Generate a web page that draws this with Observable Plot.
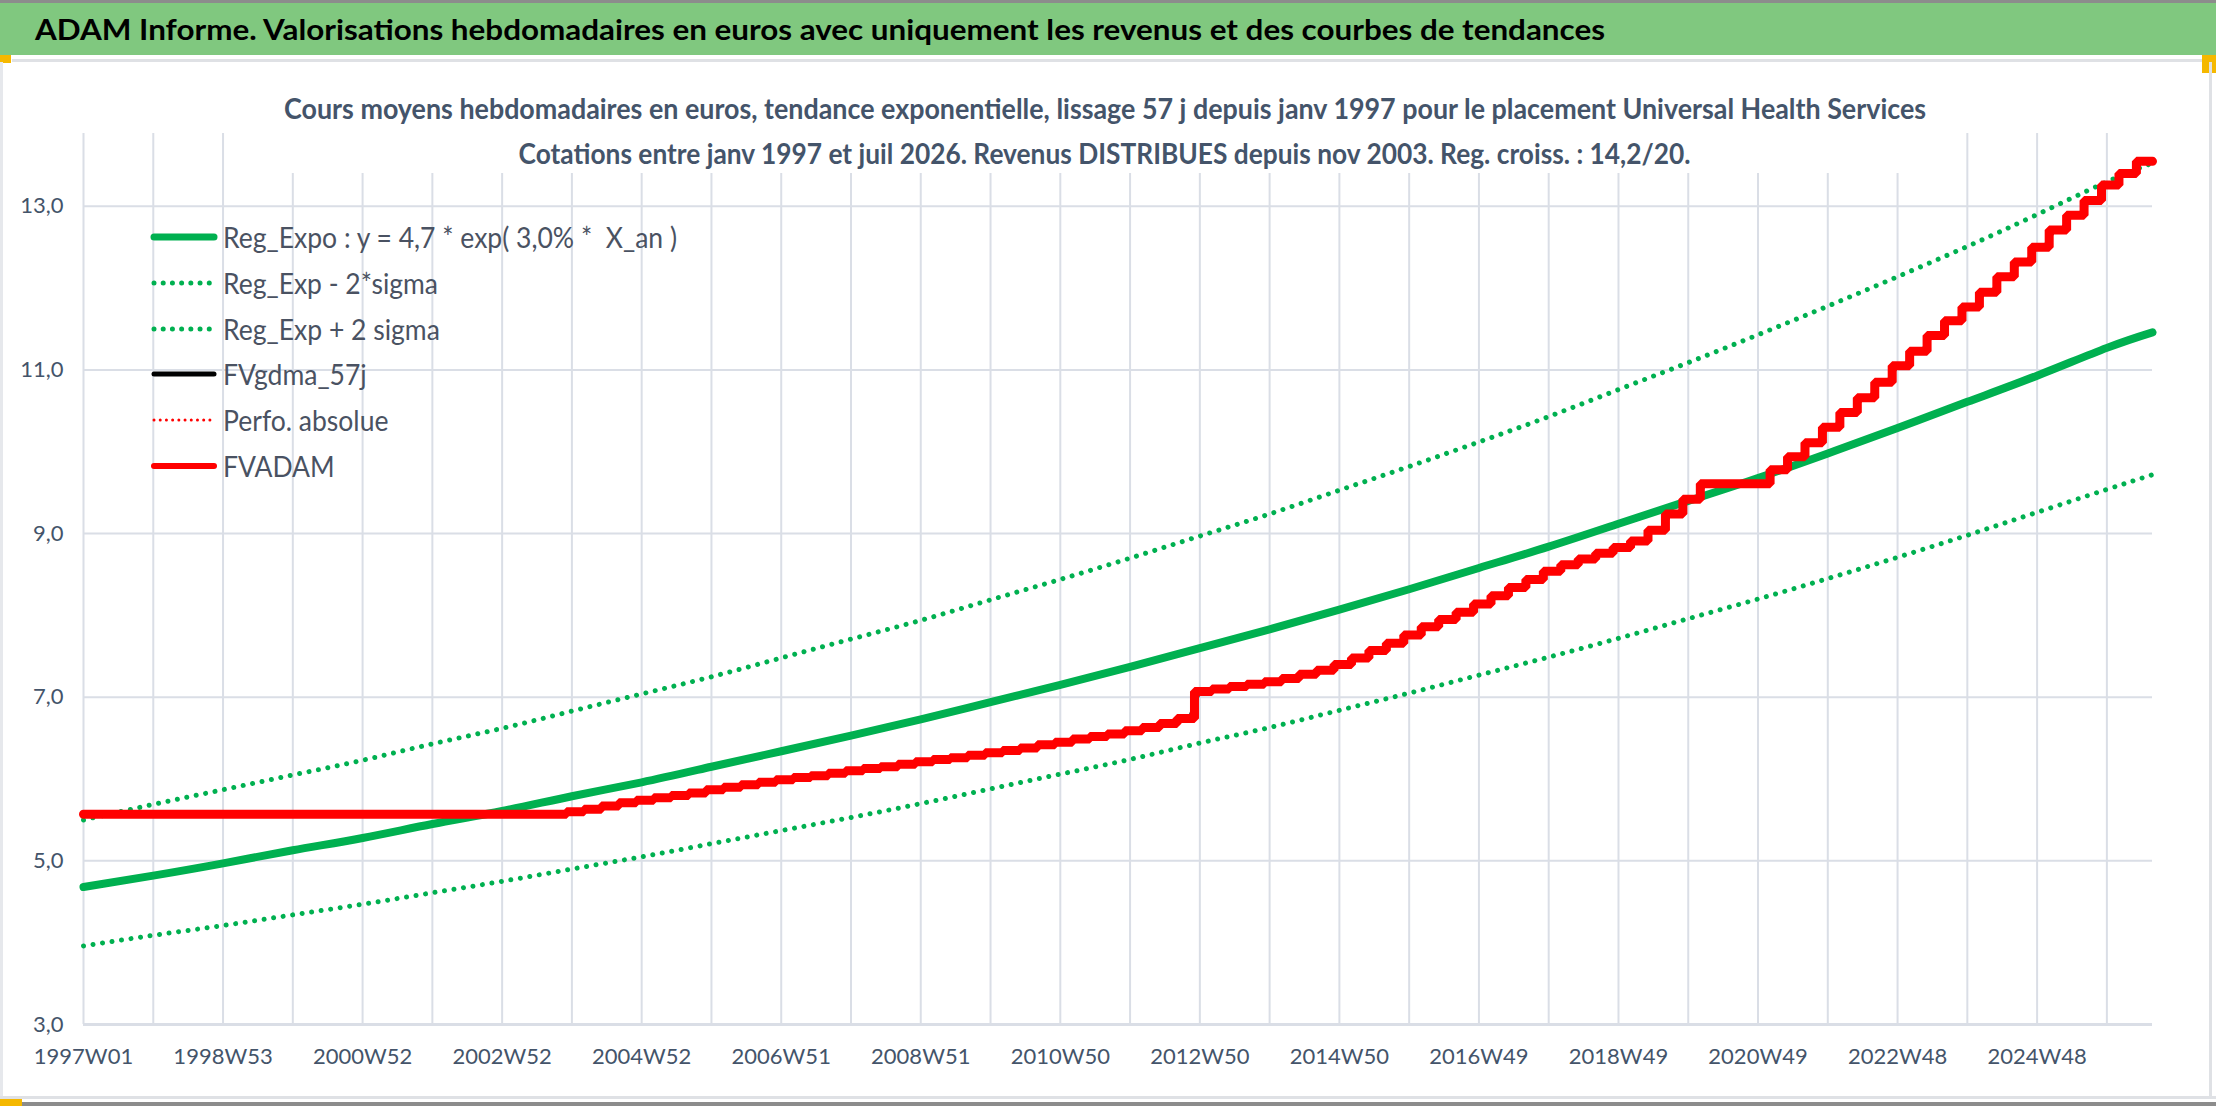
<!DOCTYPE html>
<html>
<head>
<meta charset="utf-8">
<script src="https://cdn.jsdelivr.net/npm/d3@7"></script>
<script src="https://cdn.jsdelivr.net/npm/@observablehq/plot@0.6"></script>
<style>
html, body { margin: 0; padding: 0; background: #fff; }
#page { position: relative; width: 2216px; height: 1106px; overflow: hidden; background: #fff; font-family: Lato, "Open Sans", sans-serif; }
#chart { position: absolute; left: 0; top: 0; }
.abs { position: absolute; }
#titlebar { left: 0; top: 3px; width: 2216px; height: 52px; background: #80c87f; }
#title { left: 35px; top: 3px; height: 52px; line-height: 52px; font-weight: 700; font-size: 29px; color: #000; white-space: nowrap; transform-origin: left center; }
#subbox { left: 272px; top: 80px; width: 1668px; height: 93px; background: #fff; }
.subline { left: 0; width: 2210px; text-align: center; color: #44546a; font-weight: 700; font-size: 28px; white-space: nowrap; }
.subline span { display: inline-block; transform-origin: center center; }
#legend { left: 150px; top: 214px; color: #4a5262; font-size: 28px; }
.lrow { position: absolute; left: 0; height: 46px; white-space: pre; }
.lrow svg { position: absolute; left: 0; top: 0; }
.lrow span { position: absolute; left: 73px; top: 5px; line-height: 36px; transform-origin: left center; white-space: pre; }
</style>
</head>
<body>
<div id="page">
  <div id="chart"></div>
  <div class="abs" style="left:0;top:0;width:2216px;height:3px;background:#8c8c8c"></div>
  <div class="abs" id="titlebar"></div>
  <div class="abs" id="title"></div>
  <div class="abs" style="left:12px;top:59px;width:2204px;height:3px;background:#dfe1e5"></div>
  <div class="abs" style="left:0;top:55px;width:11px;height:8px;background:#f5b800"></div>
  <div class="abs" style="left:2202px;top:55px;width:14px;height:18px;background:#f5b800"></div>
  <div class="abs" style="left:2209px;top:62px;width:3px;height:1034px;background:#dfe1e5"></div>
  <div class="abs" style="left:0;top:62px;width:3px;height:1034px;background:#e6e8ec"></div>
  <div class="abs" style="left:0;top:1096px;width:2216px;height:3px;background:#dfe1e5"></div>
  <div class="abs" style="left:0;top:1102px;width:2216px;height:4px;background:#8c8c8c"></div>
  <div class="abs" style="left:0;top:1099px;width:22px;height:7px;background:#f5b800"></div>
  <div class="abs" id="subbox"></div>
  <div class="abs subline" style="top:88px;height:40px;line-height:40px"><span id="sub1"></span></div>
  <div class="abs subline" style="top:133px;height:40px;line-height:40px"><span id="sub2"></span></div>
  <div class="abs" id="legend"></div>
</div>
<script>
// ---------- texts ----------
const titleText = "ADAM Informe. Valorisations hebdomadaires en euros avec uniquement les revenus et des courbes de tendances";
const subtitle1 = "Cours moyens hebdomadaires en euros, tendance exponentielle, lissage 57 j depuis janv 1997 pour le placement Universal Health Services";
const subtitle2 = "Cotations entre janv 1997 et juil 2026. Revenus DISTRIBUES depuis nov 2003. Reg. croiss. : 14,2/20.";

// ---------- axes ----------
const xLabels = ["1997W01","1998W53","2000W52","2002W52","2004W52","2006W51","2008W51","2010W50","2012W50","2014W50","2016W49","2018W49","2020W49","2022W48","2024W48"];
const xLabelWeeks = [0,104,208,312,416,520,624,728,832,936,1040,1144,1248,1352,1456];
const gridWeeks = [0,52,104,156,208,260,312,364,416,468,520,572,624,676,728,780,832,884,936,988,1040,1092,1144,1196,1248,1300,1352,1404,1456,1508];
const yTicks = [3,5,7,9,11,13];
const lastWeek = 1542;

// ---------- trend series (read at yearly points) ----------
const trendWeeks = [0,52,104,156,208,260,312,364,416,468,520,572,624,676,728,780,832,884,936,988,1040,1092,1144,1196,1248,1300,1352,1404,1456,1508,1542];
const regExpo = [4.68,4.82,4.97,5.13,5.28,5.45,5.61,5.79,5.96,6.15,6.34,6.53,6.73,6.94,7.15,7.37,7.60,7.83,8.07,8.32,8.58,8.84,9.12,9.40,9.68,9.98,10.29,10.61,10.93,11.27,11.46];
const regHigh = [5.50,5.69,5.87,6.05,6.23,6.43,6.62,6.83,7.04,7.25,7.48,7.71,7.94,8.19,8.44,8.70,8.97,9.24,9.53,9.82,10.12,10.43,10.76,11.09,11.43,11.78,12.14,12.51,12.90,13.30,13.53];
const regLow = [3.96,4.09,4.21,4.34,4.47,4.61,4.75,4.90,5.05,5.21,5.37,5.53,5.70,5.88,6.06,6.24,6.44,6.63,6.84,7.05,7.27,7.49,7.72,7.96,8.20,8.45,8.71,8.98,9.26,9.54,9.72];

// ---------- FVADAM staircase (week of each step, value after the step) ----------
const fvWeeks = [0,360,373,386,399,412,425,438,451,464,477,490,503,516,529,542,555,568,581,594,607,620,633,646,659,672,685,698,711,724,737,750,763,776,789,802,815,828,841,854,867,880,893,906,919,932,945,958,971,984,997,1010,1023,1036,1049,1062,1075,1088,1101,1114,1127,1140,1153,1166,1179,1192,1205,1257,1270,1283,1296,1309,1322,1335,1348,1361,1374,1387,1400,1413,1426,1439,1452,1465,1478,1491,1504,1517,1530,1542];
const fvValues = [5.57,5.60,5.63,5.67,5.71,5.74,5.77,5.80,5.83,5.87,5.90,5.93,5.96,5.99,6.02,6.04,6.07,6.10,6.13,6.15,6.18,6.21,6.24,6.26,6.29,6.32,6.35,6.38,6.42,6.45,6.49,6.52,6.55,6.59,6.63,6.68,6.74,7.07,7.10,7.13,7.16,7.19,7.23,7.28,7.33,7.40,7.48,7.57,7.66,7.76,7.86,7.95,8.04,8.14,8.24,8.34,8.44,8.54,8.62,8.69,8.76,8.83,8.91,9.04,9.24,9.42,9.61,9.78,9.94,10.11,10.30,10.48,10.66,10.85,11.05,11.23,11.42,11.60,11.77,11.95,12.14,12.32,12.50,12.71,12.89,13.07,13.26,13.40,13.55,13.55];
const smoothHalfWindow = 4; // 57-day centred moving average: half window in weeks

// ---------- legend ----------
const legendNames = ["Reg_Expo : y = 4,7 * exp( 3,0% *  X_an )","Reg_Exp - 2*sigma","Reg_Exp + 2 sigma","FVgdma_57j","Perfo. absolue","FVADAM"];

const GREEN = "#00b050", RED = "#ff0000", GRID = "#dadee6";

const trend = trendWeeks.map((w, i) => ({w, reg: regExpo[i], hi: regHigh[i], lo: regLow[i]}));
const fv = fvWeeks.map((w, i) => ({w, v: fvValues[i]}));
// moving average of the staircase: each step becomes a short ramp
const fvSmooth = fv.flatMap((d, i) => (i === 0 || i === fv.length - 1)
  ? [d]
  : [{w: d.w - smoothHalfWindow, v: fv[i - 1].v}, {w: d.w + smoothHalfWindow, v: d.v}]);

const chart = Plot.plot({
  width: 2216,
  height: 1106,
  marginTop: 124,
  marginBottom: 82,
  marginLeft: 83,
  marginRight: 64,
  style: {background: "transparent", fontFamily: "Lato, 'Open Sans', sans-serif", color: "#44546a"},
  x: {type: "linear", domain: [0, lastWeek], axis: null},
  y: {type: "linear", domain: [3, 14], axis: null},
  marks: [
    Plot.ruleX(gridWeeks, {x: d => d, y1: 3, y2: 14, insetBottom: -9, stroke: GRID, strokeWidth: 2}),
    Plot.ruleY(yTicks, {y: d => d, x1: 0, x2: lastWeek, stroke: GRID, strokeWidth: d => d === 3 ? 3 : 2}),
    Plot.axisY(yTicks, {anchor: "left", label: null, tickSize: 0, tickPadding: 20, fontSize: 22, tickFormat: d => d.toFixed(1).replace(".", ",")}),
    Plot.axisX(xLabelWeeks, {anchor: "bottom", label: null, tickSize: 0, tickPadding: 24, fontSize: 22, tickFormat: d => xLabels[xLabelWeeks.indexOf(d)]}),
    Plot.line(trend, {x: "w", y: "lo", stroke: GREEN, strokeWidth: 5, strokeDasharray: "0.01 9.6", strokeLinecap: "round", curve: "natural"}),
    Plot.line(trend, {x: "w", y: "hi", stroke: GREEN, strokeWidth: 5, strokeDasharray: "0.01 9.6", strokeLinecap: "round", curve: "natural"}),
    Plot.line(trend, {x: "w", y: "reg", stroke: GREEN, strokeWidth: 8, curve: "natural"}),
    Plot.line(fvSmooth, {x: "w", y: "v", stroke: "#000", strokeWidth: 5, curve: "monotone-x"}),
    Plot.line(fv, {x: "w", y: "v", stroke: RED, strokeWidth: 9, curve: "step-after", strokeLinejoin: "miter"})
  ]
});
document.getElementById("chart").appendChild(chart);

// texts
document.getElementById("title").textContent = titleText;
document.getElementById("sub1").textContent = subtitle1;
document.getElementById("sub2").textContent = subtitle2;

// legend
const legendStyles = [
  {stroke: GREEN, width: 7, dash: null, cap: "round"},
  {stroke: GREEN, width: 5, dash: "0.01 9.2", cap: "round"},
  {stroke: GREEN, width: 5, dash: "0.01 9.2", cap: "round"},
  {stroke: "#000", width: 5, dash: null, cap: "round"},
  {stroke: RED, width: 3, dash: "0.01 6.2", cap: "round"},
  {stroke: RED, width: 6, dash: null, cap: "round"}
];
const legend = document.getElementById("legend");
legendNames.forEach((name, i) => {
  const row = document.createElement("div");
  row.className = "lrow";
  row.style.top = (i * 45.8) + "px";
  const s = legendStyles[i];
  row.innerHTML = `<svg width="70" height="46"><line x1="4" x2="64" y1="23" y2="23" stroke="${s.stroke}" stroke-width="${s.width}" stroke-linecap="${s.cap}" ${s.dash ? `stroke-dasharray="${s.dash}"` : ""}/></svg><span></span>`;
  row.querySelector("span").textContent = name;
  legend.appendChild(row);
});

function fitX(el, target) {
  el.style.transform = "none";
  const w = el.getBoundingClientRect().width;
  if (w > 0) el.style.transform = `scaleX(${target / w})`;
}
function fitAll() {
  fitX(document.getElementById("title"), 1570);
  fitX(document.getElementById("sub1"), 1642);
  fitX(document.getElementById("sub2"), 1172);
  const spans = legend.querySelectorAll("span");
  fitX(spans[1], 215);
  const k = spans[1].getBoundingClientRect().width / spans[1].offsetWidth;
  spans.forEach((sp, i) => { if (i !== 1) sp.style.transform = `scaleX(${k})`; });
}
fitAll();
if (document.fonts && document.fonts.ready) document.fonts.ready.then(fitAll);
</script>
</body>
</html>
